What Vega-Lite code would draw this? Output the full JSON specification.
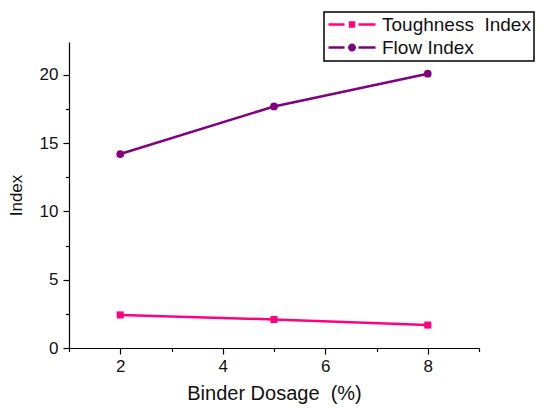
{
  "$schema": "https://vega.github.io/schema/vega-lite/v6.json",
  "width": 410,
  "height": 306,
  "autosize": {"type": "none"},
  "padding": {"left": 69, "top": 42, "right": 63, "bottom": 63},
  "background": "white",
  "config": {
    "view": {"stroke": null},
    "font": "Liberation Sans",
    "axis": {"grid": false, "domainColor": "black", "tickColor": "black", "domainWidth": 1.2, "tickWidth": 1.2, "labelColor": "#111", "titleColor": "#111", "labelFontSize": 17, "titleFontSize": 17, "titleFontWeight": "normal", "labelFont": "Liberation Sans", "titleFont": "Liberation Sans"},
    "legend": {"orient": "none", "legendX": 255, "legendY": -30, "strokeColor": "black", "padding": 3, "fillColor": "white",
      "labelFontSize": 19, "labelColor": "#111", "labelFont": "Liberation Sans", "symbolSize": 256, "labelOffset": 36, "rowPadding": 3, "symbolStrokeWidth": 0, "symbolOpacity": 1, "labelLimit": 300}
  },
  "data": {"values": [
    {"dosage": 2, "value": 2.42, "series": "Toughness\u00a0 Index"},
    {"dosage": 5, "value": 2.09, "series": "Toughness\u00a0 Index"},
    {"dosage": 8, "value": 1.68, "series": "Toughness\u00a0 Index"},
    {"dosage": 2, "value": 14.2, "series": "Flow Index"},
    {"dosage": 5, "value": 17.68, "series": "Flow Index"},
    {"dosage": 8, "value": 20.08, "series": "Flow Index"}
  ]},
  "encoding": {
    "x": {"field": "dosage", "type": "quantitative", "scale": {"domain": [1, 9], "nice": false, "zero": false},
      "axis": {"title": "Binder Dosage\u00a0 (%)", "titleFontSize": 20, "values": [1,2,3,4,5,6,7,8,9], "labelExpr": "datum.value % 2 == 0 ? datum.label : ''", "tickSize": {"condition": {"test": "datum.value % 2 == 0", "value": 6}, "value": 3.5}, "labelPadding": 4, "titlePadding": 9, "labelFlush": false}},
    "y": {"field": "value", "type": "quantitative", "scale": {"domain": [0, 22.4], "nice": false},
      "axis": {"title": "Index", "values": [0,2.5,5,7.5,10,12.5,15,17.5,20], "labelExpr": "datum.value % 5 == 0 ? datum.label : ''", "tickSize": {"condition": {"test": "datum.value % 5 == 0", "value": 6}, "value": 3.5}, "labelPadding": 5, "titlePadding": 14, "labelFlush": false}},
    "color": {"field": "series", "type": "nominal", "scale": {"domain": ["Toughness\u00a0 Index", "Flow Index"], "range": ["#ff0080", "#800080"]},
      "legend": {"title": null, "labelExpr": "datum.label + '\u00a0\u00a0'",
        "encode": {
          "legend": {"update": {"strokeWidth": {"value": 1.5}}},
          "symbols": {"update": {"opacity": {"value": 1}, "fillOpacity": {"value": 1}, "strokeWidth": {"value": 0}}}
        }}}
  },
  "layer": [
    {
      "mark": {"type": "line", "strokeWidth": 2.5}
    },
    {
      "transform": [{"filter": "datum.series == 'Flow Index'"}],
      "mark": {"type": "point", "filled": true, "opacity": 1, "shape": "circle", "size": 60}
    },
    {
      "transform": [{"filter": "datum.series != 'Flow Index'"}],
      "mark": {"type": "point", "filled": true, "opacity": 1, "shape": "square", "size": 50}
    },
    {
      "mark": {"type": "point", "filled": true, "opacity": 0},
      "encoding": {
        "shape": {"field": "series", "type": "nominal", "scale": {"domain": ["Toughness\u00a0 Index", "Flow Index"], "range": ["M-1,-0.16H1V0.16H-1Z M2.75,-0.16H4.875V0.16H2.75Z M1.53,-0.41H2.34V0.41H1.53Z", "M-1,-0.16H1V0.16H-1Z M2.75,-0.16H4.875V0.16H2.75Z M2.44,0 A0.5,0.5 0 1,1 1.44,0 A0.5,0.5 0 1,1 2.44,0Z"]},
          "legend": {"title": null, "labelExpr": "datum.label + '\u00a0\u00a0'",
            "encode": {
              "legend": {"update": {"strokeWidth": {"value": 1.5}}},
              "symbols": {"update": {"opacity": {"value": 1}, "fillOpacity": {"value": 1}, "strokeWidth": {"value": 0}}}
            }}}
      }
    }
  ]
}
